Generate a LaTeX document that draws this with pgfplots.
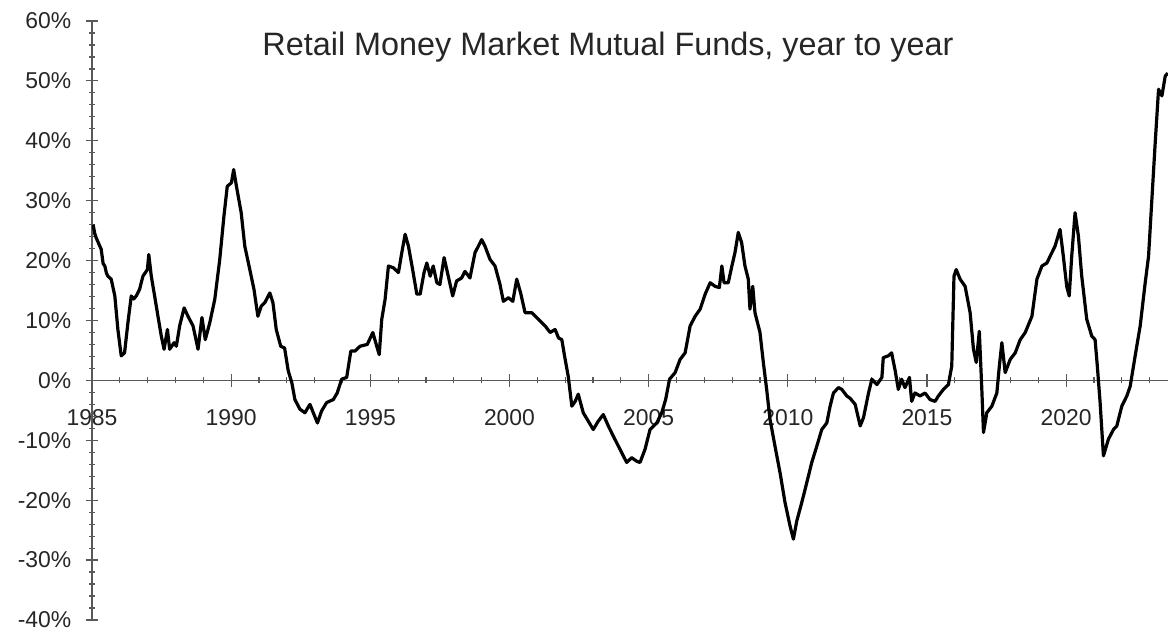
\documentclass[border=0pt]{standalone}
\usepackage{pgfplots}
\pgfplotsset{compat=1.18}
\usepackage{fontspec}
\setmainfont{Liberation Sans}
\pgfplotstableread{
year val
1985.04 26.0
1985.10 24.5
1985.15 23.8
1985.33 21.9
1985.40 19.5
1985.46 19.1
1985.52 17.9
1985.57 17.4
1985.69 16.9
1985.82 14.1
1985.93 8.5
1986.05 4.1
1986.17 4.6
1986.29 9.6
1986.41 14.1
1986.50 13.6
1986.59 14.1
1986.71 15.2
1986.83 17.4
1986.99 18.5
1987.04 21.0
1987.13 17.4
1987.25 14.1
1987.37 10.7
1987.49 7.4
1987.59 5.2
1987.71 8.5
1987.79 5.2
1987.95 6.3
1988.03 5.7
1988.15 9.1
1988.31 12.1
1988.45 10.7
1988.63 9.1
1988.81 5.2
1988.95 10.5
1989.07 6.8
1989.23 9.6
1989.41 13.5
1989.59 20.2
1989.74 27.4
1989.86 32.4
1990.01 33.0
1990.09 35.2
1990.19 32.4
1990.36 28.0
1990.49 22.4
1990.67 18.5
1990.82 15.2
1990.96 10.7
1991.08 12.4
1991.21 13.0
1991.39 14.6
1991.50 13.0
1991.62 8.5
1991.78 5.7
1991.92 5.4
1992.05 1.6
1992.18 -0.4
1992.29 -3.2
1992.47 -4.8
1992.65 -5.4
1992.83 -4.0
1992.95 -5.4
1993.10 -7.1
1993.25 -5.1
1993.43 -3.7
1993.67 -3.2
1993.81 -2.1
1993.97 0.2
1994.15 0.5
1994.30 4.9
1994.45 4.9
1994.63 5.7
1994.89 6.0
1995.09 8.0
1995.23 5.7
1995.32 4.3
1995.41 10.2
1995.53 13.5
1995.65 19.1
1995.83 18.8
1996.01 18.0
1996.13 21.3
1996.25 24.4
1996.37 22.4
1996.52 18.5
1996.67 14.4
1996.79 14.4
1996.93 18.0
1997.03 19.6
1997.15 17.4
1997.26 19.1
1997.39 16.3
1997.50 16.0
1997.65 20.5
1997.80 17.4
1997.96 14.1
1998.10 16.6
1998.28 17.1
1998.40 18.2
1998.58 17.1
1998.76 21.3
1999.00 23.5
1999.12 22.4
1999.30 20.2
1999.48 19.1
1999.66 16.0
1999.78 13.2
1999.96 13.8
2000.12 13.2
2000.26 16.9
2000.40 14.6
2000.56 11.3
2000.80 11.3
2001.04 10.2
2001.28 9.1
2001.46 8.0
2001.64 8.5
2001.76 7.1
2001.88 6.8
2002.00 3.5
2002.11 0.7
2002.24 -4.3
2002.36 -3.5
2002.47 -2.3
2002.65 -5.4
2002.83 -6.8
2003.01 -8.2
2003.19 -6.8
2003.37 -5.7
2003.55 -7.6
2003.73 -9.3
2003.97 -11.5
2004.21 -13.7
2004.39 -12.9
2004.57 -13.5
2004.69 -13.7
2004.87 -11.5
2005.05 -8.2
2005.29 -7.1
2005.47 -5.4
2005.61 -3.2
2005.75 0.2
2005.95 1.3
2006.13 3.5
2006.31 4.6
2006.49 9.1
2006.67 10.7
2006.85 11.9
2007.03 14.4
2007.21 16.3
2007.39 15.7
2007.54 15.5
2007.63 19.1
2007.71 16.3
2007.86 16.3
2007.99 19.1
2008.10 21.3
2008.22 24.7
2008.34 23.0
2008.46 19.1
2008.58 16.9
2008.64 11.9
2008.74 15.7
2008.82 11.3
2009.00 8.0
2009.12 3.0
2009.24 -1.5
2009.36 -6.5
2009.54 -11.0
2009.72 -15.4
2009.90 -20.4
2010.08 -24.3
2010.20 -26.5
2010.32 -23.5
2010.50 -20.4
2010.68 -17.1
2010.86 -13.7
2011.04 -11.0
2011.22 -8.2
2011.40 -7.1
2011.52 -4.3
2011.64 -2.1
2011.82 -1.2
2011.94 -1.5
2012.12 -2.6
2012.24 -3.0
2012.42 -4.0
2012.60 -7.6
2012.72 -6.2
2012.90 -2.1
2013.02 0.2
2013.20 -0.7
2013.38 0.5
2013.43 3.8
2013.61 4.1
2013.73 4.6
2013.85 1.8
2013.97 -1.5
2014.09 0.2
2014.21 -1.2
2014.37 0.5
2014.45 -3.5
2014.57 -2.1
2014.75 -2.6
2014.93 -2.1
2015.11 -3.2
2015.29 -3.5
2015.41 -2.6
2015.59 -1.5
2015.77 -0.7
2015.89 2.4
2015.97 17.4
2016.05 18.5
2016.19 16.9
2016.37 15.7
2016.55 11.3
2016.67 5.2
2016.77 3.0
2016.88 8.2
2016.97 -1.5
2017.03 -8.7
2017.15 -5.4
2017.33 -4.3
2017.51 -2.1
2017.60 2.4
2017.69 6.3
2017.81 1.3
2017.99 3.5
2018.17 4.6
2018.35 6.8
2018.53 8.0
2018.77 10.7
2018.95 16.9
2019.13 19.1
2019.31 19.6
2019.42 20.7
2019.60 22.4
2019.78 25.2
2019.90 20.7
2020.02 15.7
2020.11 14.1
2020.20 20.7
2020.32 28.0
2020.44 24.1
2020.56 17.4
2020.74 10.2
2020.92 7.4
2021.04 6.8
2021.12 2.4
2021.22 -3.7
2021.34 -12.6
2021.52 -9.8
2021.70 -8.2
2021.82 -7.6
2022.00 -4.3
2022.18 -2.6
2022.30 -1.0
2022.48 4.1
2022.66 9.1
2022.84 16.3
2022.96 20.7
2023.08 30.2
2023.20 39.7
2023.32 48.6
2023.44 47.5
2023.56 50.8
2023.65 51.3
}\mmf
\begin{document}
\begin{tikzpicture}
\begin{axis}[
  scale only axis,
  width=1076bp, height=599bp,
  xmin=1985, xmax=2023.66,
  ymin=-40, ymax=60,
  axis x line*=middle,
  axis y line*=left,
  axis line style={draw=black!65, line width=1.4bp},
  hide obscured x ticks=false,
  hide obscured y ticks=false,
  xtick={1985,1990,1995,2000,2005,2010,2015,2020},
  xticklabels={1985,1990,1995,2000,2005,2010,2015,2020},
  minor xtick={1986,1987,1988,1989,1991,1992,1993,1994,1996,1997,1998,1999,2001,2002,2003,2004,2006,2007,2008,2009,2011,2012,2013,2014,2016,2017,2018,2019,2021,2022,2023},
  ytick={-40,-30,-20,-10,0,10,20,30,40,50,60},
  yticklabels={-40\%,-30\%,-20\%,-10\%,0\%,10\%,20\%,30\%,40\%,50\%,60\%},
  minor y tick num=4,
  tick align=center,
  major tick length=13bp,
  minor tick length=6bp,
  every tick/.style={draw=black!65, line width=1.2bp},
  tick label style={font=\fontsize{23}{27}\selectfont, text=black!85},
  xticklabel style={anchor=base, inner sep=0pt, yshift=-39bp},
  yticklabel style={anchor=east, inner sep=0pt, xshift=-14bp},
  clip=true,
]
\addplot[black, line width=3.2bp, line join=round] table[x=year, y=val] {\mmf};
\end{axis}
\node[anchor=base, inner sep=0pt, font=\fontsize{32.5}{36}\selectfont, text=black!85] at (516bp,564bp) {Retail Money Market Mutual Funds, year to year};
\pgfresetboundingbox
\path (-92bp,-11bp) rectangle (1076bp,620bp);
\end{tikzpicture}
\end{document}
